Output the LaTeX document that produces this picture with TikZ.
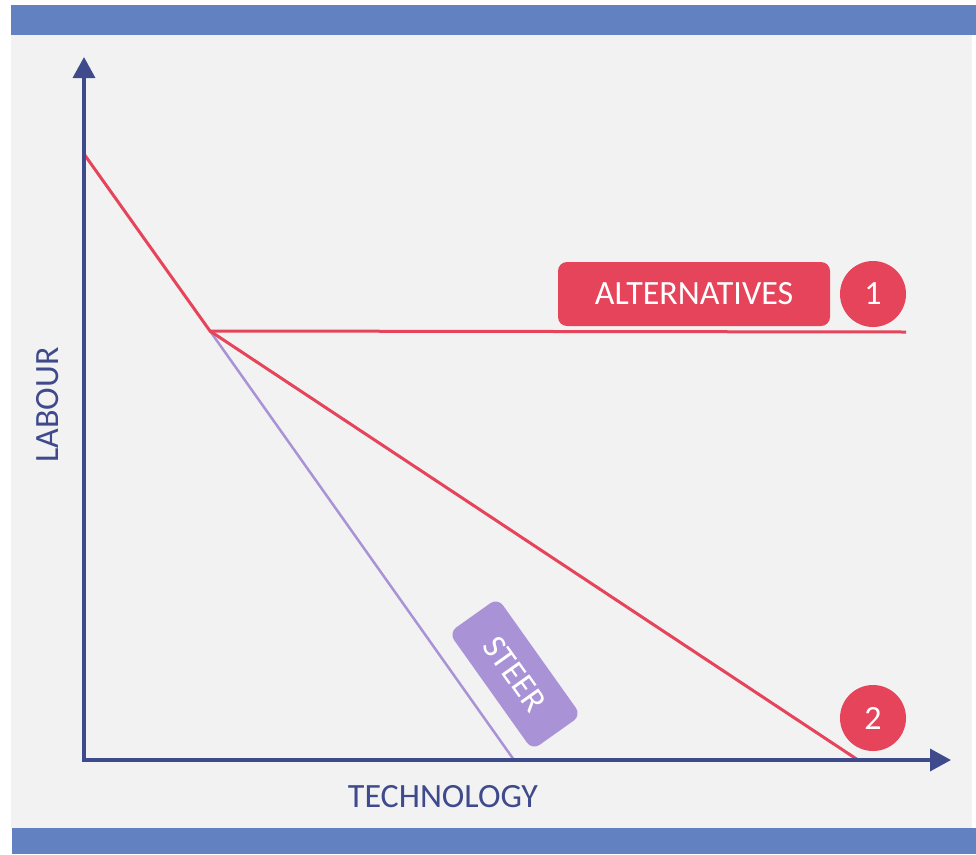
\documentclass[tikz,border=0pt]{standalone}
\usepackage{fontspec}
\setmainfont{Carlito}
\usetikzlibrary{arrows.meta}

\definecolor{barblue}{RGB}{98,129,193}
\definecolor{panel}{RGB}{242,242,242}
\definecolor{axisnavy}{RGB}{63,74,140}
\definecolor{accentred}{RGB}{229,68,90}
\definecolor{steerpurple}{RGB}{169,146,214}

\tikzset{
  axisline/.style={draw=axisnavy, line width=3.5pt,
    -{Triangle[length=21pt,width=22pt]}},
  axislabel/.style={text=axisnavy, font=\fontsize{34}{40}\selectfont, inner sep=0pt},
  redline/.style={draw=accentred, line width=3pt},
  purpleline/.style={draw=steerpurple, line width=2.5pt},
  tagbox/.style={fill=accentred, rounded corners=9pt, text=white,
    font=\fontsize{34}{40}\selectfont, minimum width=272pt, minimum height=64pt,
    inner sep=0pt},
  numdot/.style={circle, fill=accentred, text=white, minimum size=66pt,
    font=\fontsize{34}{40}\selectfont, inner sep=0pt},
  steerbox/.style={fill=steerpurple, rounded corners=9pt, text=white,
    font=\fontsize{34}{40}\selectfont, minimum width=144pt, minimum height=60pt,
    inner sep=0pt},
}

\begin{document}
\begin{tikzpicture}[x=1pt, y=-1pt]
  % page frame: white margin, grey panel, blue bands top and bottom
  \useasboundingbox (0,0) rectangle (976,854);
  \fill[white] (0,0) rectangle (976,854);
  \fill[panel] (11,35) rectangle (972,828);
  \fill[barblue] (11,5) rectangle (976,35);
  \fill[barblue] (12,828) rectangle (976,854);

  % key points of the chart
  \coordinate (origin) at (84,760);
  \coordinate (ytip) at (84,57);
  \coordinate (xtip) at (951,760);
  \coordinate (start) at (84,154);
  \coordinate (kink) at (210,331);
  \coordinate (altend) at (906,332);
  \coordinate (redend) at (858,760);
  \coordinate (steerend) at (514,760);

  % paths leaving the kink
  \draw[purpleline] (kink) -- (steerend);
  \draw[redline] (kink) -- (redend);
  \draw[redline] (start) -- (kink) -- (altend);

  % axes
  \draw[axisline] ([xshift=-1.75pt]origin) -- (xtip);
  \draw[axisline] ([yshift=-1.75pt]origin) -- (ytip);

  % axis labels
  \node[axislabel, rotate=90] (labour) at (48,405) {LABOUR};
  \node[axislabel] (technology) at (443,797) {TECHNOLOGY};

  % annotations
  \node[tagbox] (alternatives) at (694,294) {ALTERNATIVES};
  \node[numdot] (one) at (873,294) {1};
  \node[numdot] (two) at (873,718) {2};
  \node[steerbox, rotate=-54.6] (steer) at (515,674) {STEER};
\end{tikzpicture}
\end{document}
